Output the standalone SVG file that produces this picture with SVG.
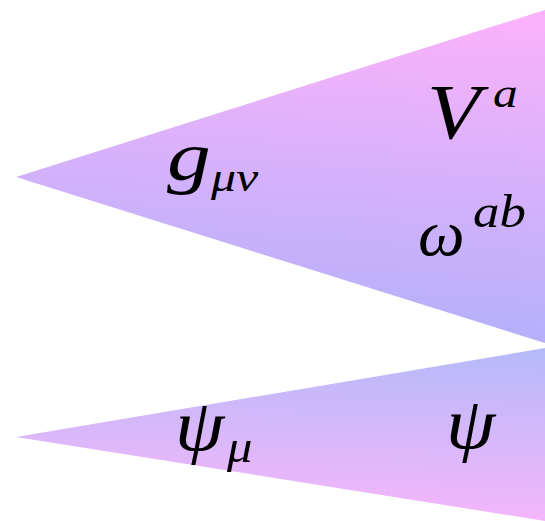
<svg xmlns="http://www.w3.org/2000/svg" width="545" height="521" viewBox="0 0 545 521">
<style>
.m{font-family:"Liberation Serif","DejaVu Serif",serif;font-style:italic;fill:#000}
</style>
<defs>
<linearGradient id="g1" x1="0.8" y1="0" x2="0.7" y2="1">
<stop offset="0" stop-color="#fbb2fb"/>
<stop offset="1" stop-color="#b3b0fb"/>
</linearGradient>
<linearGradient id="g2" x1="0.8" y1="0" x2="0.7" y2="1">
<stop offset="0" stop-color="#b6baf9"/>
<stop offset="1" stop-color="#f6b6fb"/>
</linearGradient>
</defs>
<g id="upper">
<polygon points="16,177 545,10 545,343" fill="url(#g1)"/>
<text class="m" font-size="70" transform="translate(167,180) scale(1.25,1)">g</text>
<text class="m" font-size="40" transform="translate(211,191) scale(1.25,1)">μν</text>
<text class="m" font-size="78" transform="translate(427,138) scale(1.12,1)">V</text>
<text class="m" font-size="43" transform="translate(493,107) scale(1.15,1)">a</text>
<text class="m" font-size="66" transform="translate(418,255)">ω</text>
<text class="m" font-size="46" transform="translate(473,227) scale(1.15,1)">ab</text>
</g>
<g id="lower">
<polygon points="16,437 545,348 545,521" fill="url(#g2)"/>
<text class="m" font-size="72" transform="translate(175,450) scale(1.1,1)">ψ</text>
<text class="m" font-size="46" transform="translate(227,462) scale(1.1,1)">μ</text>
<text class="m" font-size="72" transform="translate(446,448) scale(1.1,1)">ψ</text>
</g>
</svg>
